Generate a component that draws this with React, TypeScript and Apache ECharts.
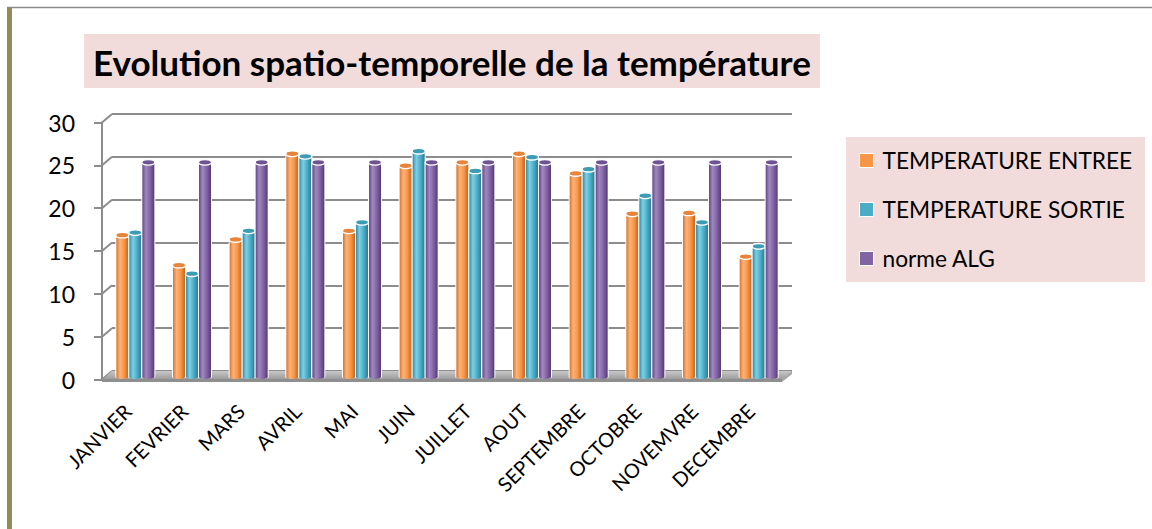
import React, { useEffect, useRef } from 'react';
import * as echarts from 'echarts';

const months = ['JANVIER', 'FEVRIER', 'MARS', 'AVRIL', 'MAI', 'JUIN', 'JUILLET', 'AOUT', 'SEPTEMBRE', 'OCTOBRE', 'NOVEMVRE', 'DECEMBRE'];
const tempEntree = [16.5, 13, 16, 26, 17, 24.6, 25, 26, 23.7, 19, 19.1, 14];
const tempSortie = [16.8, 12, 17, 25.7, 18, 26.3, 24, 25.6, 24.2, 21.1, 18, 15.2];
const normeAlg = [25, 25, 25, 25, 25, 25, 25, 25, 25, 25, 25, 25];
const yTicks = [0, 5, 10, 15, 20, 25, 30];
const seriesNames = ['TEMPERATURE ENTREE', 'TEMPERATURE SORTIE', 'norme ALG'];
const chartTitle = 'Evolution spatio-temporelle de la température';

const DX = 10;
const DY = -8.5;
const FONT = 'Lato, "Open Sans", sans-serif';

const palette = [
  { base: '#F79646', stops: ['#D9772D', '#FDB27A', '#F79646', '#C7641C'], cap: '#E8833A' },
  { base: '#4BACC6', stops: ['#2F8EA8', '#7FCFE4', '#4BACC6', '#2A7C93'], cap: '#3C9BB5' },
  { base: '#8064A2', stops: ['#654889', '#A188C0', '#8064A2', '#563B78'], cap: '#6E5392' },
];

function grad(stops: string[]) {
  return {
    type: 'linear', x: 0, y: 0, x2: 1, y2: 0,
    colorStops: [
      { offset: 0, color: stops[0] },
      { offset: 0.3, color: stops[1] },
      { offset: 0.65, color: stops[2] },
      { offset: 1, color: stops[3] },
    ],
  };
}

function barSeries(name: string, values: number[], idx: number, offset: number) {
  const p = palette[idx];
  const g = grad(p.stops);
  return {
    type: 'custom',
    name,
    xAxisIndex: 1,
    yAxisIndex: 1,
    z: 5,
    itemStyle: { color: p.base },
    data: values.map((v, i) => [i, v]),
    renderItem: (params: any, api: any) => {
      const top = api.coord([api.value(0), api.value(1)]);
      const base = api.coord([api.value(0), 0]);
      const w = 12;
      const cx = top[0] + offset;
      const x = cx - w / 2;
      return {
        type: 'group',
        children: [
          { type: 'rect', shape: { x: x - 1, y: top[1], width: w + 2, height: base[1] - top[1] + 1 }, style: { fill: '#ffffff' } },
          { type: 'ellipse', shape: { cx, cy: base[1], rx: w / 2, ry: 2.5 }, style: { fill: g } },
          { type: 'rect', shape: { x, y: top[1], width: w, height: base[1] - top[1] }, style: { fill: g } },
          { type: 'ellipse', shape: { cx, cy: top[1], rx: w / 2 + 0.5, ry: 2.8 }, style: { fill: p.cap, stroke: '#ffffff', lineWidth: 1.3 } },
        ],
      };
    },
  };
}

export default function App() {
  const ref = useRef<HTMLDivElement>(null);
  useEffect(() => {
    if (!ref.current) return;
    const chart = echarts.init(ref.current, undefined, { renderer: 'svg' });
    const option: any = {
      animation: false,
      backgroundColor: '#ffffff',
      title: {
        text: chartTitle,
        left: 93,
        top: 42,
        padding: 0,
        textStyle: { fontFamily: FONT, fontWeight: 'bold', fontSize: 35, lineHeight: 40, color: '#000' },
        z: 10,
      },
      graphic: [
        { type: 'line', shape: { x1: 7, y1: 7.5, x2: 1152, y2: 7.5 }, style: { stroke: '#8c8c8c', lineWidth: 1.5 }, z: -1 },
        { type: 'rect', shape: { x: 7, y: 8, width: 5, height: 521 }, style: { fill: '#948A54' }, z: -1 },
        { type: 'rect', shape: { x: 84, y: 34, width: 736, height: 54 }, style: { fill: '#F2DCDB' }, z: -1 },
        { type: 'rect', shape: { x: 846, y: 137, width: 299, height: 145 }, style: { fill: '#F2DCDB' }, z: -1 },
      ],
      legend: {
        orient: 'vertical',
        left: 859,
        top: 148,
        padding: 0,
        itemGap: 24,
        itemWidth: 14,
        itemHeight: 14,
        icon: 'rect',
        itemStyle: { borderColor: '#ffffff', borderWidth: 1 },
        textStyle: { fontFamily: FONT, fontSize: 22.7, lineHeight: 25, color: '#000', padding: [0, 0, 0, 4] },
        data: seriesNames,
      },
      grid: [
        { left: 112, top: 114, width: 680, height: 257 },
        { left: 107, top: 119.5, width: 680, height: 257 },
        { left: 102, top: 122.5, width: 680, height: 257 },
        { left: 99, top: 119.5, width: 680, height: 257 },
      ],
      xAxis: [
        { gridIndex: 0, type: 'value', min: 0, max: 1, show: false },
        { gridIndex: 1, type: 'category', data: months, show: false },
        { gridIndex: 2, type: 'value', min: 0, max: 1, show: false },
        {
          gridIndex: 3, type: 'category', data: months,
          axisLine: { show: false }, axisTick: { show: false },
          axisLabel: { interval: 0, rotate: 45, margin: 31, fontSize: 20, fontFamily: FONT, color: '#000' },
        },
      ],
      yAxis: [
        {
          gridIndex: 0, type: 'value', min: 0, max: 30, interval: 5,
          axisLine: { show: false }, axisTick: { show: false }, axisLabel: { show: false },
          splitLine: { show: true, lineStyle: { color: '#8c8c8c', width: 2 } },
        },
        { gridIndex: 1, type: 'value', min: 0, max: 30, interval: 5, show: false },
        {
          gridIndex: 2, type: 'value', min: 0, max: 30, interval: 5,
          axisLine: { show: true, lineStyle: { color: '#8c8c8c', width: 2 } },
          axisTick: { show: true, length: 8, lineStyle: { color: '#8c8c8c', width: 2 } },
          axisLabel: { margin: 27, fontSize: 23, fontFamily: FONT, color: '#000' },
          splitLine: { show: false },
        },
        { gridIndex: 3, type: 'value', min: 0, max: 30, interval: 5, show: false },
      ],
      series: [
        {
          type: 'custom',
          xAxisIndex: 2,
          yAxisIndex: 2,
          z: 1,
          silent: true,
          data: yTicks.map((v) => [0, v]),
          renderItem: (params: any, api: any) => {
            const p = api.coord([0, api.value(1)]);
            return {
              type: 'line',
              shape: { x1: p[0], y1: p[1], x2: p[0] + DX, y2: p[1] + DY },
              style: { stroke: '#8c8c8c', lineWidth: 2 },
            };
          },
        },
        {
          type: 'custom',
          xAxisIndex: 2,
          yAxisIndex: 2,
          z: 2,
          silent: true,
          data: [[0, 0]],
          renderItem: (params: any, api: any) => {
            const a = api.coord([0, 0]);
            const b = api.coord([1, 0]);
            return {
              type: 'group',
              children: [
                {
                  type: 'polygon',
                  shape: { points: [[a[0], a[1]], [b[0], b[1]], [b[0] + DX, b[1] + DY], [a[0] + DX, a[1] + DY]] },
                  style: {
                    fill: { type: 'linear', x: 0, y: 0, x2: 0, y2: 1, colorStops: [{ offset: 0, color: '#c8c8c8' }, { offset: 1, color: '#9a9a9a' }] },
                  },
                },
                { type: 'rect', shape: { x: a[0], y: a[1] - 0.5, width: b[0] - a[0], height: 3 }, style: { fill: '#8f8f8f' } },
                {
                  type: 'polygon',
                  shape: { points: [[b[0], b[1] - 0.5], [b[0] + DX, b[1] + DY], [b[0] + DX, b[1] + DY + 3], [b[0], b[1] + 2.5]] },
                  style: { fill: '#a5a5a5' },
                },
              ],
            };
          },
        },
        barSeries(seriesNames[0], tempEntree, 0, -13),
        barSeries(seriesNames[1], tempSortie, 1, 0),
        barSeries(seriesNames[2], normeAlg, 2, 13),
      ],
    };
    chart.setOption(option);
    return () => chart.dispose();
  }, []);
  return <div ref={ref} style={{ position: 'absolute', left: 0, top: 0, width: 1152, height: 529 }} />;
}
